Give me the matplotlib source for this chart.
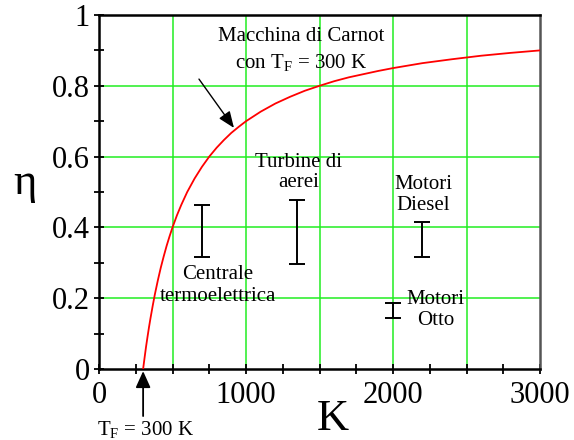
import matplotlib
matplotlib.use("Agg")
import matplotlib.pyplot as plt

plt.rcParams['font.family'] = ['Liberation Serif', 'DejaVu Serif']
plt.rcParams['mathtext.fontset'] = 'custom'
plt.rcParams['mathtext.rm'] = 'Liberation Serif'
plt.rcParams['mathtext.it'] = 'Liberation Serif:italic'

# Carnot curve (T in K, efficiency)
carnot_T = [300, 310, 320, 330, 340, 350, 365, 380, 400, 420, 440, 460, 480,
            500, 530, 560, 600, 650, 700, 750, 800, 850, 900, 950, 1000,
            1100, 1200, 1300, 1400, 1500, 1600, 1700, 1800, 1900, 2000,
            2200, 2400, 2600, 2800, 3000]
carnot_eta = [0.0, 0.032, 0.063, 0.091, 0.118, 0.143, 0.178, 0.211, 0.25,
              0.286, 0.318, 0.348, 0.375, 0.4, 0.434, 0.464, 0.5, 0.538,
              0.571, 0.6, 0.625, 0.647, 0.667, 0.684, 0.7, 0.727, 0.75,
              0.769, 0.786, 0.8, 0.813, 0.824, 0.833, 0.842, 0.85, 0.864,
              0.875, 0.885, 0.893, 0.9]

# Real machines: temperature and efficiency range
machine_T = [700, 1350, 2200, 2000]
machine_low = [0.315, 0.297, 0.315, 0.143]
machine_high = [0.462, 0.476, 0.415, 0.187]

x_ticks = list(range(0, 3001, 250))
x_labels = ["0", "", "", "", "1000", "", "", "", "2000", "", "", "", "3000"]
y_ticks = [round(0.1 * i, 1) for i in range(11)]
y_labels = ["0", "", "0.2", "", "0.4", "", "0.6", "", "0.8", "", "1"]

fig = plt.figure(figsize=(5.74, 4.40), dpi=100)
ax = fig.add_axes([0.1725, 0.1614, 0.7683, 0.8045])

green = "#22ee22"
for gx in [500, 1000, 1500, 2000, 2500]:
    ax.axvline(gx, color=green, lw=1.1, zorder=1)
for gy in [0.2, 0.4, 0.6, 0.8]:
    ax.axhline(gy, color=green, lw=1.1, zorder=1)

ax.plot(carnot_T, carnot_eta, color="#ff0000", lw=1.3, zorder=3)

mid = [(l + h) / 2 for l, h in zip(machine_low, machine_high)]
err = [[m - l for m, l in zip(mid, machine_low)],
       [h - m for h, m in zip(machine_high, mid)]]
ax.errorbar(machine_T, mid, yerr=err, fmt='none', ecolor='black',
            elinewidth=1.4, capsize=5.8, capthick=1.4, zorder=4)

ax.set_xlim(0, 3000)
ax.set_ylim(0, 1)
ax.set_xticks(x_ticks)
ax.set_xticklabels(x_labels)
ax.set_yticks(y_ticks)
ax.set_yticklabels(y_labels)
ax.tick_params(direction='inout', length=7, width=1.3, labelsize=22,
               colors='black')
ax.tick_params(axis='x', pad=5)
ax.tick_params(axis='y', pad=3)

for s in ['left', 'bottom', 'top']:
    ax.spines[s].set_linewidth(1.8)
    ax.spines[s].set_color('black')
ax.spines['right'].set_linewidth(1.8)
ax.spines['right'].set_color('#555555')

fs = 15
ax.text(1374, 0.938, "Macchina di Carnot", ha='center', va='center', fontsize=fs)
ax.text(1374, 0.867, r"con T$_\mathrm{F}$ = 300 K", ha='center', va='center', fontsize=fs)
ax.annotate("", xy=(918, 0.681), xytext=(680, 0.819),
            arrowprops=dict(arrowstyle='-|>,head_length=1.0,head_width=0.4',
                            color='black', lw=1.0, shrinkA=0, shrinkB=0))

ax.text(1355, 0.582, "Turbine di", ha='center', va='center', fontsize=fs)
ax.text(1355, 0.528, "aerei", ha='center', va='center', fontsize=fs)
ax.text(2207, 0.520, "Motori", ha='center', va='center', fontsize=fs)
ax.text(2207, 0.463, "Diesel", ha='center', va='center', fontsize=fs)
ax.text(807, 0.266, "Centrale", ha='center', va='center', fontsize=fs)
ax.text(807, 0.204, "termoelettrica", ha='center', va='center', fontsize=fs)
ax.text(2290, 0.195, "Motori", ha='center', va='center', fontsize=fs)
ax.text(2290, 0.138, "Otto", ha='center', va='center', fontsize=fs)

ax.annotate("", xy=(300, -0.006), xytext=(300, -0.133),
            annotation_clip=False,
            arrowprops=dict(arrowstyle='-|>,head_length=1.0,head_width=0.45',
                            color='black', lw=1.3, shrinkA=0, shrinkB=0))
ax.text(315, -0.172, r"T$_\mathrm{F}$ = 300 K", ha='center', va='center',
        fontsize=fs, clip_on=False)

fig.text(333 / 574, 1 - 419 / 440, "K", ha='center', va='center', fontsize=32)
fig.text(25 / 574, 1 - 183 / 440, "η", ha='center', va='center', fontsize=32)

fig.savefig("out.png", dpi=100)
